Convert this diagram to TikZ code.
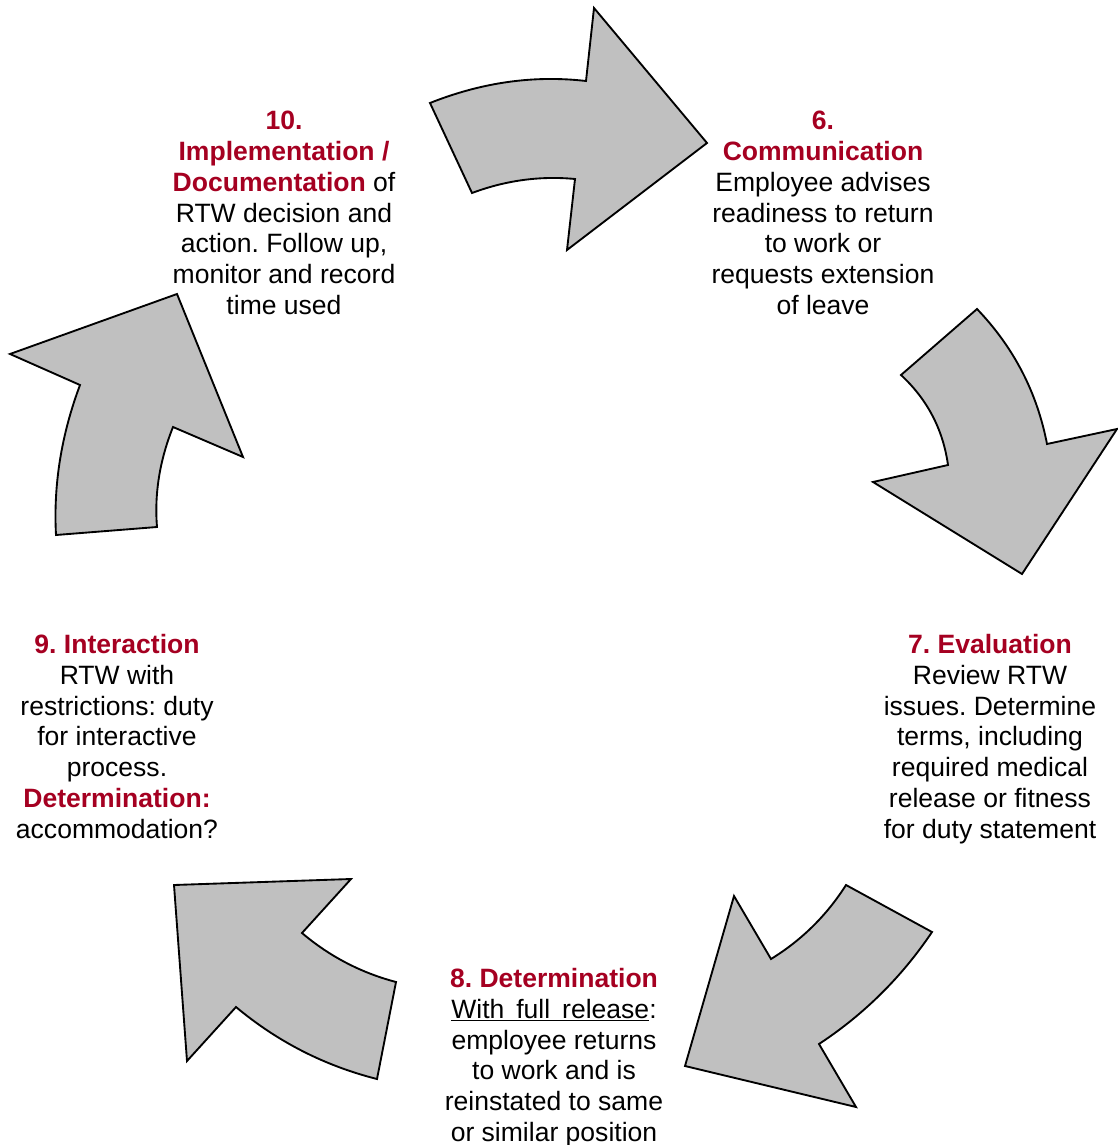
\documentclass[tikz,border=0pt]{standalone}
\usepackage{fontspec}
\setmainfont{Liberation Sans}
\definecolor{stepred}{RGB}{165,0,33}
\definecolor{arrowgray}{RGB}{192,192,192}
\begin{document}
\begin{tikzpicture}[x=0.75pt,y=-0.75pt,
  bigarrow/.style={draw=black,fill=arrowgray,line width=1.4pt,line join=miter},
  stepnote/.style={align=center,inner sep=0pt,anchor=north,
    font=\fontsize{19.9}{23.1}\selectfont\frenchspacing}]
\useasboundingbox (0,0) rectangle (1117,1145);
% arrow 10 -> 6 (top)
\draw[bigarrow] (430,103) .. controls (482,82.3) and (534,75) .. (586,81) -- (594,8) -- (707,143)
  -- (567,250) -- (575,179) .. controls (540.3,175.7) and (506,180.3) .. (472,193) -- cycle;
% arrow 6 -> 7 (upper right)
\draw[bigarrow] (977,309) .. controls (1013.7,347.3) and (1037,392.3) .. (1047,444) -- (1117,429) -- (1022,574)
  -- (873,482) -- (948,465) .. controls (943,429.4) and (927.3,399.4) .. (901,375) -- cycle;
% arrow 7 -> 8 (lower right)
\draw[bigarrow] (846,885) -- (932,932) .. controls (901.8,976.9) and (864.1,1014.3) .. (819,1044) -- (856,1107)
  -- (685,1066) -- (734,896) -- (771,959) .. controls (801.7,940.1) and (826.7,915.4) .. cycle;
% arrow 8 -> 9 (lower left)
\draw[bigarrow] (174,885) -- (351,879) -- (302,933) .. controls (329.6,956.4) and (360.9,972.7) .. (396,982)
  -- (377,1079) .. controls (324.5,1065.7) and (277.5,1041.7) .. (236,1007) -- (187,1061) -- cycle;
% arrow 9 -> 10 (left)
\draw[bigarrow] (177,294) -- (243,457) -- (173,427) .. controls (159.7,460.3) and (154.3,493.7) .. (157,527)
  -- (56,535) .. controls (53.3,485) and (61.3,435) .. (80,385) -- (10,354) -- cycle;
% texts
\node[stepnote] (s10) at (284,111) {\textcolor{stepred}{\textbf{10.}}\\
  \textcolor{stepred}{\textbf{Implementation /}}\\
  \textcolor{stepred}{\textbf{Documentation}} of\\
  RTW decision and\\ action. Follow up,\\ monitor and record\\ time used};
\node[stepnote] (s6) at (823,111) {\textcolor{stepred}{\textbf{6.}}\\
  \textcolor{stepred}{\textbf{Communication}}\\
  Employee advises\\ readiness to return\\ to work or\\ requests extension\\ of leave};
\node[stepnote] (s7) at (990,634) {\textcolor{stepred}{\textbf{7. Evaluation}}\\
  Review RTW\\ issues. Determine\\ terms, including\\ required medical\\
  release or fitness\\ for duty statement};
\node[stepnote] (s9) at (117,634) {\textcolor{stepred}{\textbf{9. Interaction}}\\
  RTW with\\ restrictions: duty\\ for interactive\\ process.\\
  \textcolor{stepred}{\textbf{Determination:}}\\ accommodation?};
\node[stepnote] (s8) at (554,968) {\textcolor{stepred}{\textbf{8. Determination}}\\
  \underline{With\hspace{0.45em}full\hspace{0.45em}release}:\\
  employee returns\\ to work and is\\ reinstated to same\\ or similar position};
\end{tikzpicture}
\end{document}
